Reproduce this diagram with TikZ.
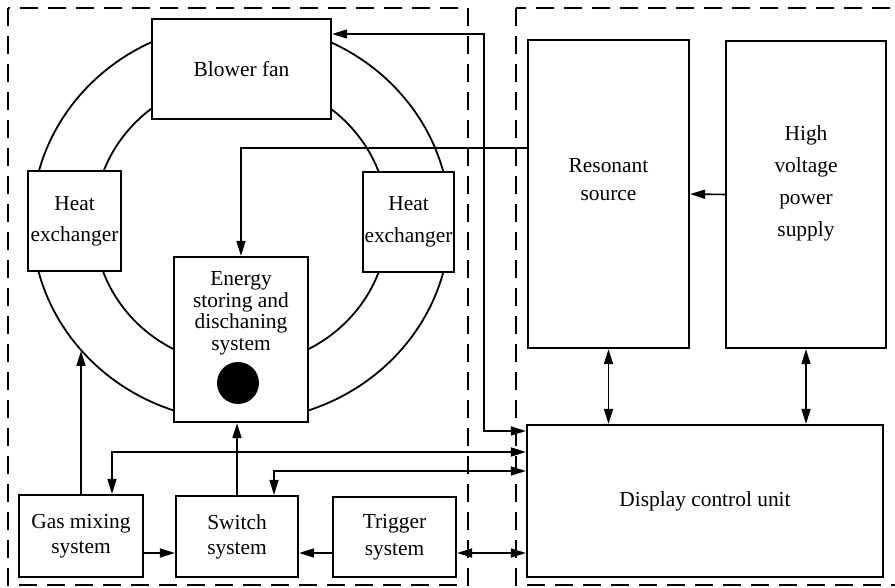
\documentclass[tikz,border=0pt]{standalone}
\usepackage{fontspec}
\setmainfont{Liberation Serif}
\usetikzlibrary{arrows.meta,positioning,calc}

\tikzset{
  blk/.style={draw,line width=1.1pt,fill=white,align=center,inner sep=0pt},
  txt/.style={align=center,inner sep=0pt},
  grp/.style={line width=0.9pt,dash pattern=on 9pt off 5pt},
  lnk/.style={line width=0.8pt,-{Triangle[length=7.5pt,width=4.5pt]}},
  lnkb/.style={line width=0.8pt,{Triangle[length=7.5pt,width=4.5pt]}-{Triangle[length=7.5pt,width=4.5pt]}},
}

\begin{document}
\begin{tikzpicture}[x=0.5pt,y=-0.5pt,font=\fontsize{10.7}{12}\selectfont]
    \useasboundingbox (0,0) rectangle (895,588);

    % Dashed groups
    \draw[grp] (8,8) rectangle (468,585);
    \draw[grp] (516,8) rectangle (910,585);

    % Gas loop rings
    \draw[line width=0.9pt] (241,222) ellipse [x radius=104.5pt,y radius=99.5pt];
    \draw[line width=0.9pt] (241,222) ellipse [x radius=73.5pt,y radius=71.5pt];
    \coordinate (loop) at (81,351);

    % Laser head blocks
    \node[blk,minimum width=89.5pt,minimum height=50pt] (fan) at (241.5,69) {Blower fan};
    \node[blk,minimum width=46.5pt,minimum height=50pt,font=\fontsize{10.7}{15.5}\selectfont]
      (hexl) at (74.5,221) {Heat\\exchanger};
    \node[blk,minimum width=45.5pt,minimum height=50pt,font=\fontsize{10.7}{16}\selectfont]
      (hexr) at (408.5,222) {Heat\\exchanger};
    \node[blk,minimum width=67pt,minimum height=82.5pt] (ener) at (241,339.5) {};
    \node[txt,anchor=north,font=\fontsize{10.7}{10.8}\selectfont] (enertxt) at (241,271)
      {Energy\\storing and\\dischaning\\system};
    \node[circle,fill=black,minimum size=21pt,inner sep=0pt] (spark) at (238,383) {};

    % Bottom row
    \node[blk,minimum width=62pt,minimum height=41pt,font=\fontsize{10.7}{12.5}\selectfont]
      (gas) at (81,536) {Gas mixing\\system};
    \node[blk,minimum width=61pt,minimum height=40.5pt,font=\fontsize{10.7}{12.5}\selectfont]
      (sw) at (237,536.5) {Switch\\system};
    \node[blk,minimum width=61.5pt,minimum height=40pt,font=\fontsize{10.7}{13.5}\selectfont]
      (trig) at (394.5,537) {Trigger\\system};

    % Power and control side
    \node[blk,minimum width=80.5pt,minimum height=154pt] (res) at (608.5,194) {};
    \node[txt,font=\fontsize{10.7}{14}\selectfont] (restxt) at (608.5,180) {Resonant\\source};
    \node[blk,minimum width=80pt,minimum height=153.5pt] (hv) at (806,194.5) {};
    \node[txt,font=\fontsize{10.7}{16}\selectfont] (hvtxt) at (806,183)
      {High\\voltage\\power\\supply};
    \node[blk,minimum width=178pt,minimum height=76pt] (dcu) at (705,501) {Display control unit};

    % Connections
    \draw[lnkb] (fan.east |- 0,34) -- (484,34) |- (dcu.west |- 0,431);
    \draw[lnk] (res.west |- 0,148) -| (ener.north);
    \draw[lnk] (hv.west) -- (res.east);
    \draw[lnkb] (res.south) -- (res.south |- dcu.north);
    \draw[lnkb] (hv.south) -- (hv.south |- dcu.north);
    \draw[lnkb] (112,0 |- gas.north) |- (dcu.west |- 0,452);
    \draw[lnkb] (274,0 |- sw.north) |- (dcu.west |- 0,471);
    \draw[lnkb] (trig.east |- 0,553) -- (dcu.west |- 0,553);
    \draw[lnk] (gas.north) -- (loop);
    \draw[lnk] (sw.north) -- (sw.north |- ener.south);
    \draw[lnk] (gas.east |- 0,553) -- (sw.west |- 0,553);
    \draw[lnk] (trig.west |- 0,553) -- (sw.east |- 0,553);
\end{tikzpicture}
\end{document}
